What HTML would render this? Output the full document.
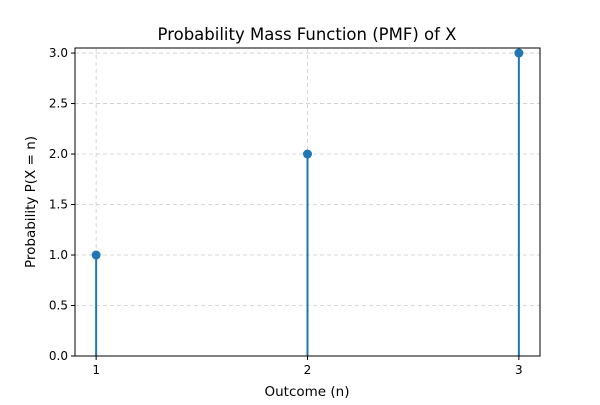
<!DOCTYPE html>
<html><head><meta charset="utf-8"><style>
body{margin:0;background:#fff;font-family:"Liberation Sans",sans-serif}
svg text{font-family:"DejaVu Sans","Liberation Sans",sans-serif;fill:#000}
</style></head><body>
<svg id="chart" width="600" height="400">
<text x="307" y="40" font-size="16.5" text-anchor="middle">Probability Mass Function (PMF) of X</text>
<text x="307" y="396" font-size="13.5" text-anchor="middle">Outcome (n)</text>
<text transform="translate(35,202) rotate(-90)" font-size="13.5" text-anchor="middle">Probability P(X = n)</text>
<g id="grid"></g><g id="ticks"></g><g id="marks"></g>
<rect x="75" y="48" width="465" height="308" fill="none" stroke="#000" stroke-width="1"/>
</svg>
<script>
const categories=[1,2,3];
const values=[1,2,3];
const yTicks=[0,0.5,1.0,1.5,2.0,2.5,3.0];
const yTickLabels=["0.0","0.5","1.0","1.5","2.0","2.5","3.0"];
const L=75,R=540,T=48,B=356;
const xs=v=>L+(v-0.9)/(3.1-0.9)*(R-L);
const ys=v=>B-(v/3.05)*(B-T);
const NS="http://www.w3.org/2000/svg";
function mk(t,a,p){const e=document.createElementNS(NS,t);for(const k in a)e.setAttribute(k,a[k]);p.appendChild(e);return e;}
const grid=document.getElementById('grid'),ticks=document.getElementById('ticks'),marks=document.getElementById('marks');
yTicks.forEach((v,i)=>{const y=ys(v);
 const g=mk('line',{x1:L,x2:R,y1:y,y2:y,stroke:'#ccc','stroke-dasharray':'4,3','stroke-width':0.8},grid);
 
 
 mk('line',{x1:L-4,x2:L,y1:y,y2:y,stroke:'#000'},ticks);
 const t=mk('text',{x:L-7,y:y+4,'font-size':12,'text-anchor':'end'},ticks);t.textContent=yTickLabels[i];
 
 
});
categories.forEach((c,i)=>{const x=xs(c);
 const g=mk('line',{x1:x,x2:x,y1:T,y2:B,stroke:'#ccc','stroke-dasharray':'4,3','stroke-width':0.8},grid);
 
 
 mk('line',{x1:x,x2:x,y1:B,y2:B+4,stroke:'#000'},ticks);
 const t=mk('text',{x:x,y:B+18,'font-size':12,'text-anchor':'middle'},ticks);t.textContent=c;
 
 
 const s=mk('line',{x1:x,x2:x,y1:ys(0),y2:ys(values[i]),stroke:'#1f77b4','stroke-width':2},marks);
 
 
 const m=mk('circle',{cx:x,cy:ys(values[i]),r:4.5,fill:'#1f77b4'},marks);
 
 
});
</script>
</body></html>
